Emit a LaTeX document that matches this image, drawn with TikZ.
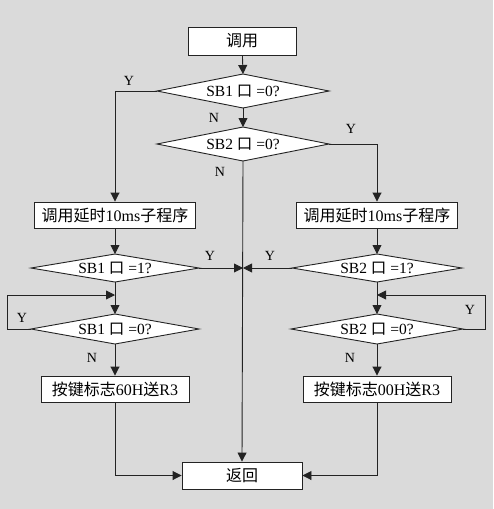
\documentclass[tikz,border=0pt]{standalone}
\usepackage{fontspec}
\setmainfont{Liberation Serif}
\newfontfamily\cjk{Noto Sans CJK SC}
\usetikzlibrary{arrows.meta}
\definecolor{bgc}{RGB}{218,218,218}
\definecolor{lnc}{RGB}{35,35,35}
\newcommand\mydia[6]{% name, x, y, half width, half height, text
  \draw[line, fill=white] (#2-#4,#3) -- (#2,#3-#5) -- (#2+#4,#3) -- (#2,#3+#5) -- cycle;
  \coordinate (#1-w) at (#2-#4,#3);
  \coordinate (#1-e) at (#2+#4,#3);
  \coordinate (#1-n) at (#2,#3-#5);
  \coordinate (#1-s) at (#2,#3+#5);
  \node[dtext] (#1) at (#2,#3) {#6};}
\begin{document}
\begin{tikzpicture}[x=1pt,y=-1pt,
  line/.style={draw=lnc, line width=0.9pt},
  arr/.style={line, -{Triangle[length=9pt,width=9pt]}},
  procbox/.style={draw=lnc, fill=white, line width=0.9pt, inner sep=0pt, font=\fontsize{16}{16}\selectfont},
  dtext/.style={inner sep=0pt, font=\fontsize{15.5}{15.5}\selectfont},
  lbl/.style={font=\fontsize{14}{14}\selectfont, inner sep=0pt}]
\fill[bgc] (0,0) rectangle (493,509);
\useasboundingbox (0,0) rectangle (493,509);

% boxes
\node[procbox, minimum width=108pt, minimum height=28pt] (start) at (242,41) {{\cjk 调用}};
\node[procbox, minimum width=161pt, minimum height=26pt] (L1) at (115,215) {{\cjk 调用延时}10ms{\cjk 子程序}};
\node[procbox, minimum width=161pt, minimum height=26pt] (R1) at (377,215) {{\cjk 调用延时}10ms{\cjk 子程序}};
\node[procbox, minimum width=148pt, minimum height=26pt] (L2) at (115,389) {{\cjk 按键标志}60H{\cjk 送}R3};
\node[procbox, minimum width=148pt, minimum height=26pt] (R2) at (377,389) {{\cjk 按键标志}00H{\cjk 送}R3};
\node[procbox, minimum width=120pt, minimum height=27pt] (ret) at (242,475.5) {{\cjk 返回}};

% diamonds
\mydia{d1}{243}{91}{86}{17}{SB1 {\cjk 口} =0?}
\mydia{d2}{243}{144}{86}{17}{SB2 {\cjk 口} =0?}
\mydia{d3}{115}{268}{84}{14}{SB1 {\cjk 口} =1?}
\mydia{d4}{377}{268}{85}{14}{SB2 {\cjk 口} =1?}
\mydia{d5}{115}{329}{84}{15}{SB1 {\cjk 口} =0?}
\mydia{d6}{377}{329}{86}{15}{SB2 {\cjk 口} =0?}

% helper coordinates
\coordinate (lpl) at (7,295);
\coordinate (lj) at (115,295);
\coordinate (rpr) at (485,295);
\coordinate (rj) at (377,295);

% connectors
\draw[arr] (start) -- (d1-n);
\draw[arr] (d1-s) -- (d2-n);
\draw[arr] (d1-w) -| (L1.north);
\draw[arr] (d2-e) -| (R1.north);
\draw[arr] (d2-s) -- (ret.north);
\draw[arr] (L1) -- (d3-n);
\draw[arr] (R1) -- (d4-n);
\draw[arr] (d3-e) -- (d3-e -| d2-s);
\draw[arr] (d4-w) -- (d4-w -| d2-s);
\draw[arr] (d3-s) -- (d5-n);
\draw[arr] (d4-s) -- (d6-n);
\draw[arr] (d5-w) -| (lpl) -- (lj);
\draw[arr] (d6-e) -| (rpr) -- (rj);
\draw[arr] (d5-s) -- (L2);
\draw[arr] (d6-s) -- (R2);
\draw[arr] (L2.south) |- (ret.west);
\draw[arr] (R2.south) |- (ret.east);

% labels
\node[lbl] (y1) at (129,81) {Y};
\node[lbl] (n1) at (214,118) {N};
\node[lbl] (y2) at (351,129) {Y};
\node[lbl] (n2) at (220,172) {N};
\node[lbl] (y3) at (210,256) {Y};
\node[lbl] (y4) at (270,256) {Y};
\node[lbl] (y5) at (22,318) {Y};
\node[lbl] (y6) at (470,310) {Y};
\node[lbl] (n3) at (92,358) {N};
\node[lbl] (n4) at (350,358) {N};
\end{tikzpicture}
\end{document}
